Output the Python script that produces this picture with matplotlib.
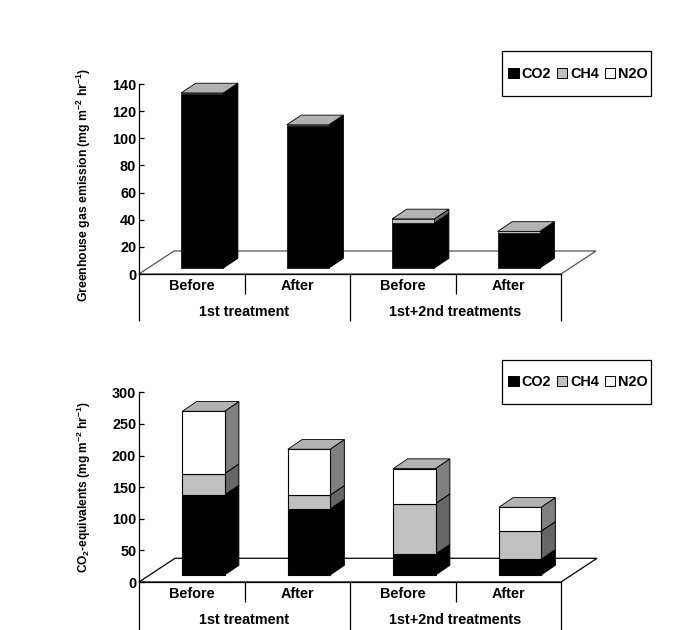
import matplotlib
matplotlib.use("Agg")
import matplotlib.pyplot as plt
from matplotlib.patches import Polygon, Patch, Rectangle

plt.rcParams["font.family"] = ["Liberation Sans", "DejaVu Sans"]
plt.rcParams["font.weight"] = "bold"
plt.rcParams["mathtext.fontset"] = "custom"
plt.rcParams["mathtext.rm"] = "Liberation Sans:bold"
plt.rcParams["mathtext.bf"] = "Liberation Sans:bold"
plt.rcParams["mathtext.default"] = "rm"

categories = ["Before", "After", "Before", "After"]
groups = ["1st treatment", "1st+2nd treatments"]
series = ["CO2", "CH4", "N2O"]

emission_co2 = [128.0, 104.5, 33.0, 26.0]
emission_ch4 = [1.0, 1.0, 3.2, 1.0]
emission_n2o = [0.0, 0.0, 0.0, 0.0]
emission_ticks = [0, 20, 40, 60, 80, 100, 120, 140]

equiv_co2 = [126.6, 104.4, 33.0, 24.8]
equiv_ch4 = [33.7, 21.7, 80.0, 44.3]
equiv_n2o = [98.7, 72.8, 55.4, 38.0]
equiv_ticks = [0, 50, 100, 150, 200, 250, 300]

FRONT = ["#000000", "#c0c0c0", "#ffffff"]
SIDE = ["#000000", "#666666", "#808080"]
TOP = "#b2b2b2"
W, H = 674, 630
fig = plt.figure(figsize=(W / 100, H / 100), dpi=100)
FS = 10.4


def panel(y_top, y_bot, ymax, ticks, stacks, ylabel, floor_col, floor_px, front_px, back_px,
          leg_box, lab_x, lab_y, lab_fs, edge_lw, tall):
    left, right = 139, 561
    ax = fig.add_axes([left / W, 1 - y_bot / H, (right - left) / W, (y_bot - y_top) / H])
    ax.set_xlim(0, 4)
    ax.set_ylim(0, ymax)
    ax.patch.set_visible(False)
    sx = (right - left) / 4
    sy = (y_bot - y_top) / ymax
    for s in ("top", "right"):
        ax.spines[s].set_visible(False)
    for s in ("left", "bottom"):
        ax.spines[s].set_linewidth(0.9)
    ax.set_yticks(ticks)
    ax.tick_params(axis="y", direction="in", length=3.6, width=0.9, pad=2, labelsize=FS)
    ax.set_xticks([i + 0.5 for i in range(4)], categories)
    ax.tick_params(axis="x", length=0, pad=3.5, labelsize=FS)

    # floor
    fx, fy = floor_px[0] / sx, floor_px[1] / sy
    ax.add_patch(Polygon([(0, 0), (fx, fy), (4 + fx, fy), (4, 0)], closed=True, fc="white",
                         ec=floor_col, lw=0.9, clip_on=False, zorder=1))

    # bars
    dx0, dy0 = front_px[0] / sx, front_px[1] / sy
    dx1, dy1 = back_px[0] / sx, back_px[1] / sy
    bw = 0.4
    for i in range(4):
        x0 = i + 0.5 - bw / 2 + dx0
        x1 = x0 + bw
        b = dy0
        z = 3
        for k, vals in enumerate(stacks):
            h = vals[i]
            if h <= 0:
                continue
            ax.add_patch(Polygon([(x1, b), (x1 + dx1, b + dy1), (x1 + dx1, b + h + dy1), (x1, b + h)],
                                 closed=True, fc=SIDE[k], ec="black", lw=0.7, clip_on=False, zorder=z))
            ax.bar(x0, h, bw, bottom=b, align="edge", color=FRONT[k], ec="black", lw=edge_lw,
                   clip_on=False, zorder=z)
            b += h
        ax.add_patch(Polygon([(x0, b), (x0 + dx1, b + dy1), (x1 + dx1, b + dy1), (x1, b)],
                             closed=True, fc=TOP, ec="black", lw=0.6, clip_on=False, zorder=z))

    # multi-level axis separators
    tr = ax.get_xaxis_transform()
    h = y_bot - y_top
    for xv, depth in [(0, tall), (1, 20), (2, tall), (3, 20), (4, tall)]:
        ax.plot([xv, xv], [0, -depth / h], transform=tr, color="black", lw=0.9, clip_on=False,
                solid_capstyle="butt")
    for cx, g in zip([1, 3], groups):
        ax.text(cx, -37.6 / h, g, transform=tr, ha="center", va="center", fontsize=FS)

    fig.text(lab_x / W, 1 - lab_y / H, ylabel, rotation=90, ha="center", va="center", fontsize=lab_fs)

    # legend frame, entries inside it
    x0, y0, x1, y1 = leg_box
    fig.add_artist(Rectangle((x0 / W, 1 - y1 / H), (x1 - x0) / W, (y1 - y0) / H, transform=fig.transFigure,
                             fc="white", ec="black", lw=0.9))
    handles = [Patch(fc=c, ec="black", lw=0.7) for c in FRONT]
    leg = fig.legend(handles, series, loc="center", bbox_to_anchor=(578 / W, 1 - (y0 + y1) / 2 / H), ncols=3,
                     frameon=False, fontsize=FS, handlelength=0.7, handleheight=0.7, handletextpad=0.2,
                     columnspacing=0.42, borderpad=0, borderaxespad=0)
    leg.set_zorder(5)
    return ax


panel(84, 274, 140, emission_ticks, [emission_co2, emission_ch4, emission_n2o],
      r"Greenhouse gas emission (mg m$^{-2}$ hr$^{-1}$)", "#555555", (35, 23), (10.5, 6), (14.5, 9.7),
      (502.3, 51.3, 650.7, 96.3), 84, 185, 8.8, 0.5, 46.5)
panel(392.3, 582, 300, equiv_ticks, [equiv_co2, equiv_ch4, equiv_n2o],
      r"CO$_{2}$-equivalents (mg m$^{-2}$ hr$^{-1}$)", "#000000", (36, 23.7), (11.7, 7), (14.3, 9.7),
      (502.3, 360, 650.7, 404.3), 84, 487, 8.6, 0.8, 48)

fig.savefig("out.png", dpi=100, facecolor="white")
